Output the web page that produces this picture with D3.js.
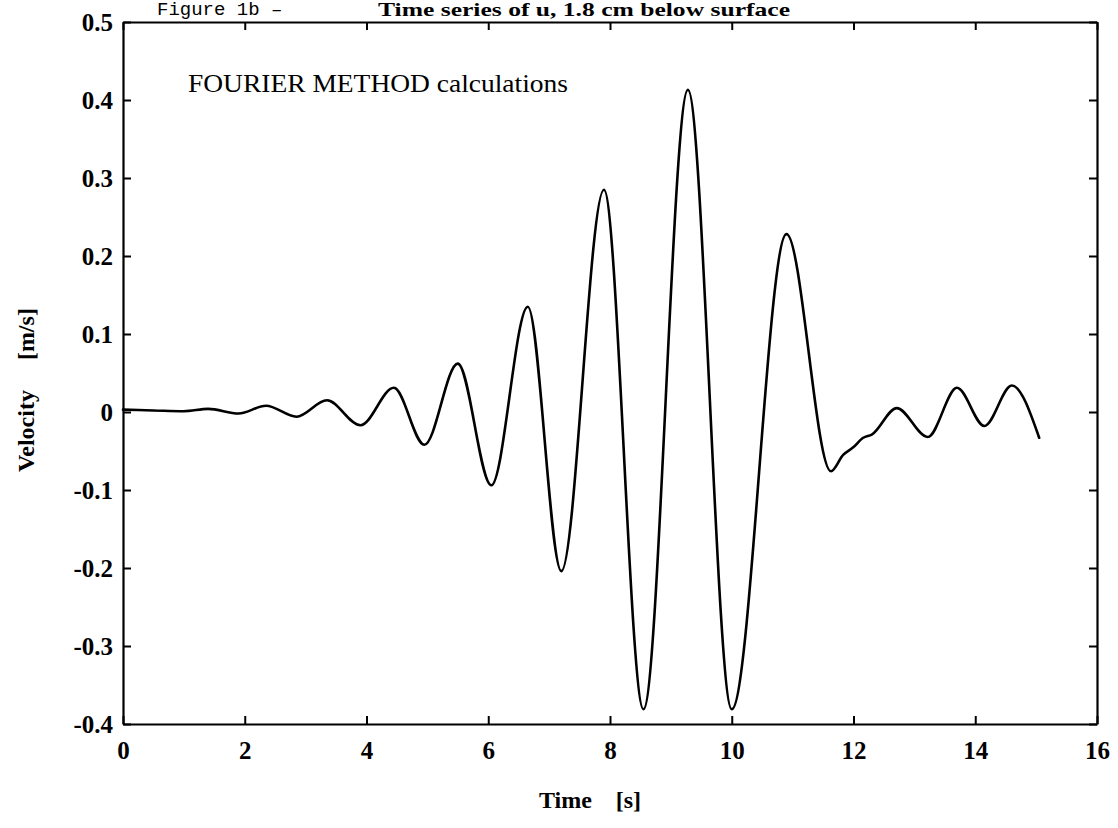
<!DOCTYPE html>
<html><head><meta charset="utf-8">
<script src="https://cdn.jsdelivr.net/npm/d3@7"></script>
<style>
html,body{margin:0;padding:0;background:#fff;}
svg{display:block;}
</style></head>
<body>
<svg id="chart" width="1118" height="828"></svg>
<script>
// ---- data (turning points of the trace) ----
const timeS = [0.00,0.50,1.00,1.40,1.90,2.35,2.85,3.35,3.90,4.45,4.95,5.50,6.05,6.65,7.20,7.90,8.55,9.28,10.00,10.90,11.63,11.83,12.00,12.16,12.30,12.71,13.22,13.70,14.15,14.60,15.05];
const velocity = [0.003,0.002,0.001,0.004,-0.002,0.008,-0.006,0.015,-0.017,0.031,-0.042,0.062,-0.094,0.135,-0.204,0.285,-0.381,0.413,-0.381,0.228,-0.076,-0.055,-0.045,-0.033,-0.029,0.005,-0.032,0.031,-0.018,0.034,-0.033];
const xTicks = [0,2,4,6,8,10,12,14,16];
const yTicks = [-0.4,-0.3,-0.2,-0.1,0,0.1,0.2,0.3,0.4,0.5];
const xLabel = "Time    [s]";
const yLabel = "Velocity     [m/s]";
const annotation = "FOURIER METHOD calculations";
const figTitleA = "Figure 1b –";
const figTitleB = "Time series of u, 1.8 cm below surface";

// ---- layout ----
const svg = d3.select("#chart");
const L = 123, R = 1097, T = 22, B = 724;
const x = d3.scaleLinear().domain([0,16]).range([L,R]);
const y = d3.scaleLinear().domain([-0.4,0.5]).range([B,T]);
const serif = "'Liberation Serif','Times New Roman',serif";

// figure heading (at the very top, as in the scan)
svg.append("text").attr("x",157).attr("y",15)
  .attr("font-family","'Liberation Mono','DejaVu Sans Mono',monospace")
  .attr("font-size",19).attr("fill","#000").text(figTitleA);
svg.append("text").attr("x",378).attr("y",16)
  .attr("font-family",serif).attr("font-weight","bold")
  .attr("font-size",19).attr("textLength",412).attr("lengthAdjust","spacingAndGlyphs")
  .attr("fill","#000").text(figTitleB);

// axes with inward ticks
const tickLen = 8;
const gB = svg.append("g").attr("transform",`translate(0,${B})`)
  .call(d3.axisBottom(x).tickValues(xTicks).tickSizeInner(-tickLen).tickSizeOuter(0).tickPadding(14).tickFormat(d3.format("d")));
const gT = svg.append("g").attr("transform",`translate(0,${T})`)
  .call(d3.axisTop(x).tickValues(xTicks).tickSizeInner(-tickLen).tickSizeOuter(0).tickFormat(""));
const gL = svg.append("g").attr("transform",`translate(${L},0)`)
  .call(d3.axisLeft(y).tickValues(yTicks).tickSizeInner(-tickLen).tickSizeOuter(0).tickPadding(10)
     .tickFormat(d => d===0 ? "0" : d.toFixed(1)));
const gR = svg.append("g").attr("transform",`translate(${R},0)`)
  .call(d3.axisRight(y).tickValues(yTicks).tickSizeInner(-tickLen).tickSizeOuter(0).tickFormat(""));

[gB,gT,gL,gR].forEach(g=>{
  g.select(".domain").attr("stroke","#000").attr("stroke-width",2.2);
  g.selectAll(".tick line").attr("stroke","#000").attr("stroke-width",2);
  g.selectAll(".tick text").attr("font-family",serif).attr("font-weight","bold")
    .attr("font-size",25).attr("fill","#000");
});
gB.selectAll(".tick text").attr("dy","0.85em");
gL.selectAll(".tick text").attr("dy","0.35em");

// axis titles
svg.append("text").attr("x",590).attr("y",808).attr("text-anchor","middle")
  .attr("font-family",serif).attr("font-weight","bold").attr("font-size",24)
  .attr("xml:space","preserve").style("white-space","pre").text(xLabel);
svg.append("text").attr("transform","translate(34,390) rotate(-90)").attr("text-anchor","middle")
  .attr("font-family",serif).attr("font-weight","bold").attr("font-size",24)
  .attr("xml:space","preserve").style("white-space","pre").text(yLabel);

// annotation
svg.append("text").attr("x",188).attr("y",92)
  .attr("font-family",serif).attr("font-size",26).attr("textLength",380).attr("lengthAdjust","spacingAndGlyphs")
  .attr("fill","#000").text(annotation);

// curve
const pts = timeS.map((t,i)=>[t,velocity[i]]);
svg.append("path").datum(pts)
  .attr("fill","none").attr("stroke","#000").attr("stroke-width",2.6)
  .attr("stroke-linejoin","round").attr("stroke-linecap","round")
  .attr("d", d3.line().x(d=>x(d[0])).y(d=>y(d[1])).curve(d3.curveMonotoneX));
</script>
</body></html>
